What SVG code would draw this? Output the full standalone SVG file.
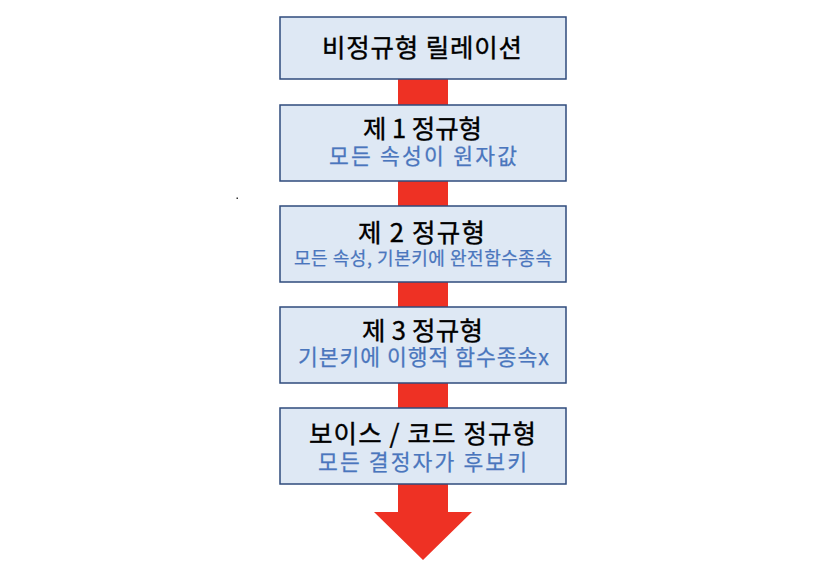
<svg xmlns="http://www.w3.org/2000/svg" width="830" height="565" viewBox="0 0 830 565">
<style>
.box{fill:#DEE8F4;stroke:#2F4B7C;stroke-width:1.5}
.t{font-family:"Noto Sans CJK KR","Noto Sans",sans-serif;font-size:25.5px;fill:#000;stroke:#000;stroke-width:0.4;text-anchor:middle}
.s{font-family:"Noto Sans CJK KR","Noto Sans",sans-serif;font-size:21.5px;fill:#4A76BD;stroke:#4A76BD;stroke-width:0.25;text-anchor:middle}
.s2{font-size:18px}
</style>
<rect width="830" height="565" fill="#fff"/>
<g id="connectors">
<polygon points="398,79 448,79 448,512 472,512 423,560 374,512 398,512" fill="#EE3124"/>
</g>
<rect x="236.5" y="197.5" width="1.5" height="1.5" fill="#333"/>
<g id="n0">
<rect class="box" x="280" y="17" width="286" height="62"/>
<text class="t" x="422" y="57" textLength="200" lengthAdjust="spacing">비정규형 릴레이션</text>
</g>
<g id="n1">
<rect class="box" x="280" y="105" width="286" height="76"/>
<text class="t" x="422.5" y="138" textLength="119" lengthAdjust="spacing">제 1 정규형</text>
<text class="s" x="423" y="164" textLength="188" lengthAdjust="spacing">모든 속성이 원자값</text>
</g>
<g id="n2">
<rect class="box" x="280" y="206" width="286" height="76"/>
<text class="t" x="421.5" y="242" textLength="127" lengthAdjust="spacing">제 2 정규형</text>
<text class="s s2" x="423" y="265" textLength="258" lengthAdjust="spacing">모든 속성, 기본키에 완전함수종속</text>
</g>
<g id="n3">
<rect class="box" x="280" y="307" width="286" height="76"/>
<text class="t" x="422.5" y="340" textLength="121" lengthAdjust="spacing">제 3 정규형</text>
<text class="s" x="423.5" y="365" textLength="251" lengthAdjust="spacing">기본키에 이행적 함수종속x</text>
</g>
<g id="n4">
<rect class="box" x="280" y="408" width="286" height="76"/>
<text class="t" x="422.5" y="443" textLength="227" lengthAdjust="spacing">보이스 / 코드 정규형</text>
<text class="s" x="422.5" y="470" textLength="209" lengthAdjust="spacing">모든 결정자가 후보키</text>
</g>
</svg>
